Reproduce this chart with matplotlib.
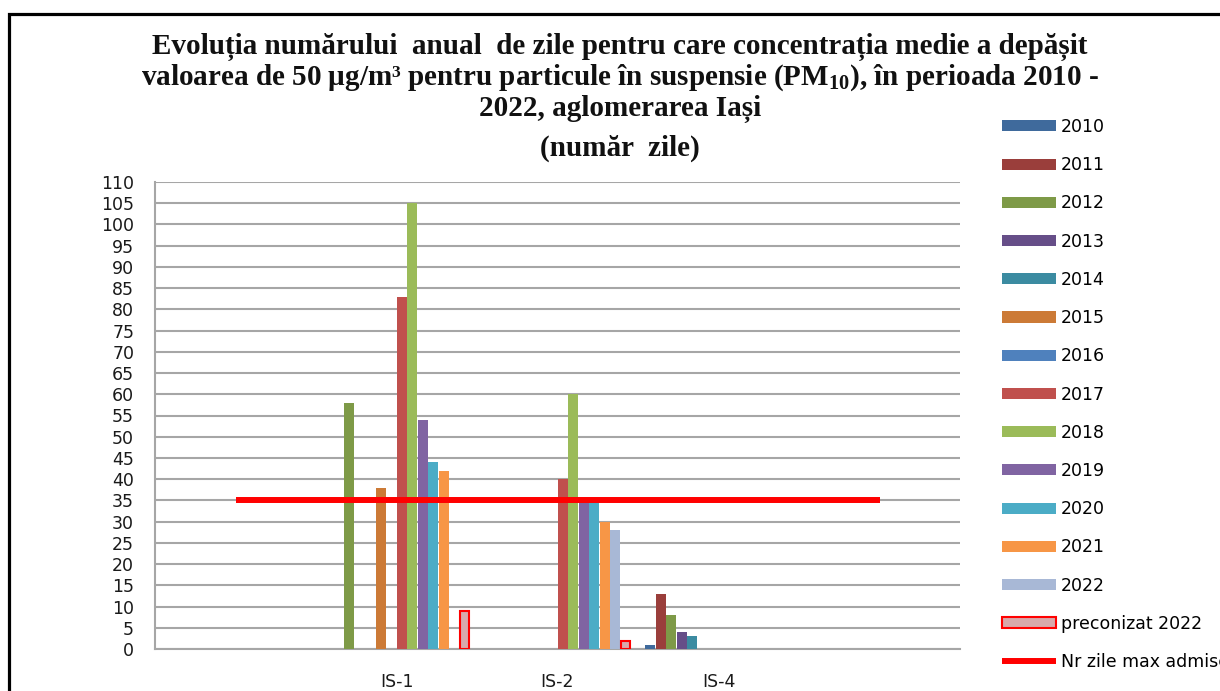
import matplotlib
matplotlib.use("Agg")
import matplotlib.pyplot as plt
from matplotlib.patches import Rectangle
import numpy as np

plt.rcParams['mathtext.fontset'] = 'custom'
plt.rcParams['mathtext.rm'] = 'Liberation Serif:bold'
plt.rcParams['mathtext.it'] = 'Liberation Serif:bold'
plt.rcParams['mathtext.bf'] = 'Liberation Serif:bold'

# ---- data ----
categories = ["", "IS-1", "IS-2", "IS-4", ""]
series_labels = ["2010", "2011", "2012", "2013", "2014", "2015", "2016",
                 "2017", "2018", "2019", "2020", "2021", "2022", "preconizat 2022"]
v2010 = [0, 0, 0, 1, 0]
v2011 = [0, 0, 0, 13, 0]
v2012 = [0, 58, 0, 8, 0]
v2013 = [0, 0, 0, 4, 0]
v2014 = [0, 0, 0, 3, 0]
v2015 = [0, 38, 0, 0, 0]
v2016 = [0, 0, 0, 0, 0]
v2017 = [0, 83, 40, 0, 0]
v2018 = [0, 105, 60, 0, 0]
v2019 = [0, 54, 35, 0, 0]
v2020 = [0, 44, 35, 0, 0]
v2021 = [0, 42, 30, 0, 0]
v2022 = [0, 0, 28, 0, 0]
preconizat_2022 = [0, 9, 2, 0, 0]
limit_label = "Nr zile max admise"
limit_value = 35
y_ticks = list(range(0, 111, 5))

series_values = [v2010, v2011, v2012, v2013, v2014, v2015, v2016,
                 v2017, v2018, v2019, v2020, v2021, v2022, preconizat_2022]
colors = ["#3F6A9C", "#9A3E3B", "#7E9A47", "#664E88", "#3B8BA1", "#CC7A36",
          "#4F81BD", "#C0504D", "#9BBB59", "#8064A2", "#4BACC6", "#F79646",
          "#A8B8D6", "#D8A9AB"]

fig = plt.figure(figsize=(12.2, 6.91), dpi=100)
ax = fig.add_axes([155/1220, 42/691, 805/1220, 467/691])

n = len(series_values)
bw = 0.0652
x = np.arange(len(categories))
handles = []
for i, (vals, lab, col) in enumerate(zip(series_values, series_labels, colors)):
    off = (i - (n - 1) / 2) * bw
    v = np.array(vals, dtype=float)
    v[v == 0] = np.nan  # empty cells: no bar drawn
    if lab.startswith("preconizat"):
        b = ax.bar(x + off, v, width=bw * 0.9, color=col, edgecolor="#FF0000",
                   linewidth=1.5, label=lab, zorder=3)
    else:
        b = ax.bar(x + off, v, width=bw * 0.92, color=col, label=lab, zorder=3)
    handles.append(b)

ln, = ax.plot([x[0], x[-1]], [limit_value, limit_value], color="#FF0000", lw=4.3,
              solid_capstyle="butt", label=limit_label, zorder=4)
handles.append(ln)

ax.set_xlim(-0.5, len(categories) - 0.5)
ax.set_ylim(0, 110)
ax.set_yticks(y_ticks)
ax.set_yticklabels([str(t) for t in y_ticks], fontsize=12.5, color="#1a1a1a")
ax.set_xticks(x)
ax.set_xticklabels(categories, fontsize=12.5, color="#1a1a1a")
ax.tick_params(axis="both", length=0)
ax.tick_params(axis="y", pad=15)
ax.tick_params(axis="x", pad=17)
ax.yaxis.grid(True, color="#A6A6A6", lw=1.5, zorder=0)
ax.set_axisbelow(True)
for s in ["top", "right"]:
    ax.spines[s].set_visible(False)
for s in ["left", "bottom"]:
    ax.spines[s].set_color("#A6A6A6")
    ax.spines[s].set_linewidth(1.5)

# title
tkw = dict(ha="center", va="baseline", fontsize=21, fontweight="bold",
           family="Liberation Serif", color="#111111")
fig.text(620/1220, 1 - 54/691,
         "Evoluția numărului  anual  de zile pentru care concentrația medie a depășit", **tkw)
fig.text(620/1220, 1 - 85/691,
         "valoarea de 50 µg/m³ pentru particule în suspensie (PM$_{10}$), în perioada 2010 -", **tkw)
fig.text(620/1220, 1 - 116/691, "2022, aglomerarea Iași", **tkw)
fig.text(620/1220, 1 - 156/691, "(număr  zile)", **tkw)

# legend
labels = series_labels + [limit_label]
leg = fig.legend(handles, labels, loc="upper left",
                 bbox_to_anchor=(1002/1220, 1 - 118/691), frameon=False,
                 fontsize=12.5, labelspacing=1.165, handlelength=3.1,
                 handleheight=0.6, handletextpad=0.3, borderpad=0,
                 borderaxespad=0)

# outer black frame
fig.patches.append(Rectangle((9/1220, -0.1), 1.2, (691 - 14)/691 + 0.1,
                             transform=fig.transFigure, fill=False,
                             edgecolor="black", lw=2.3, clip_on=False))

fig.savefig("out.png", dpi=100)
